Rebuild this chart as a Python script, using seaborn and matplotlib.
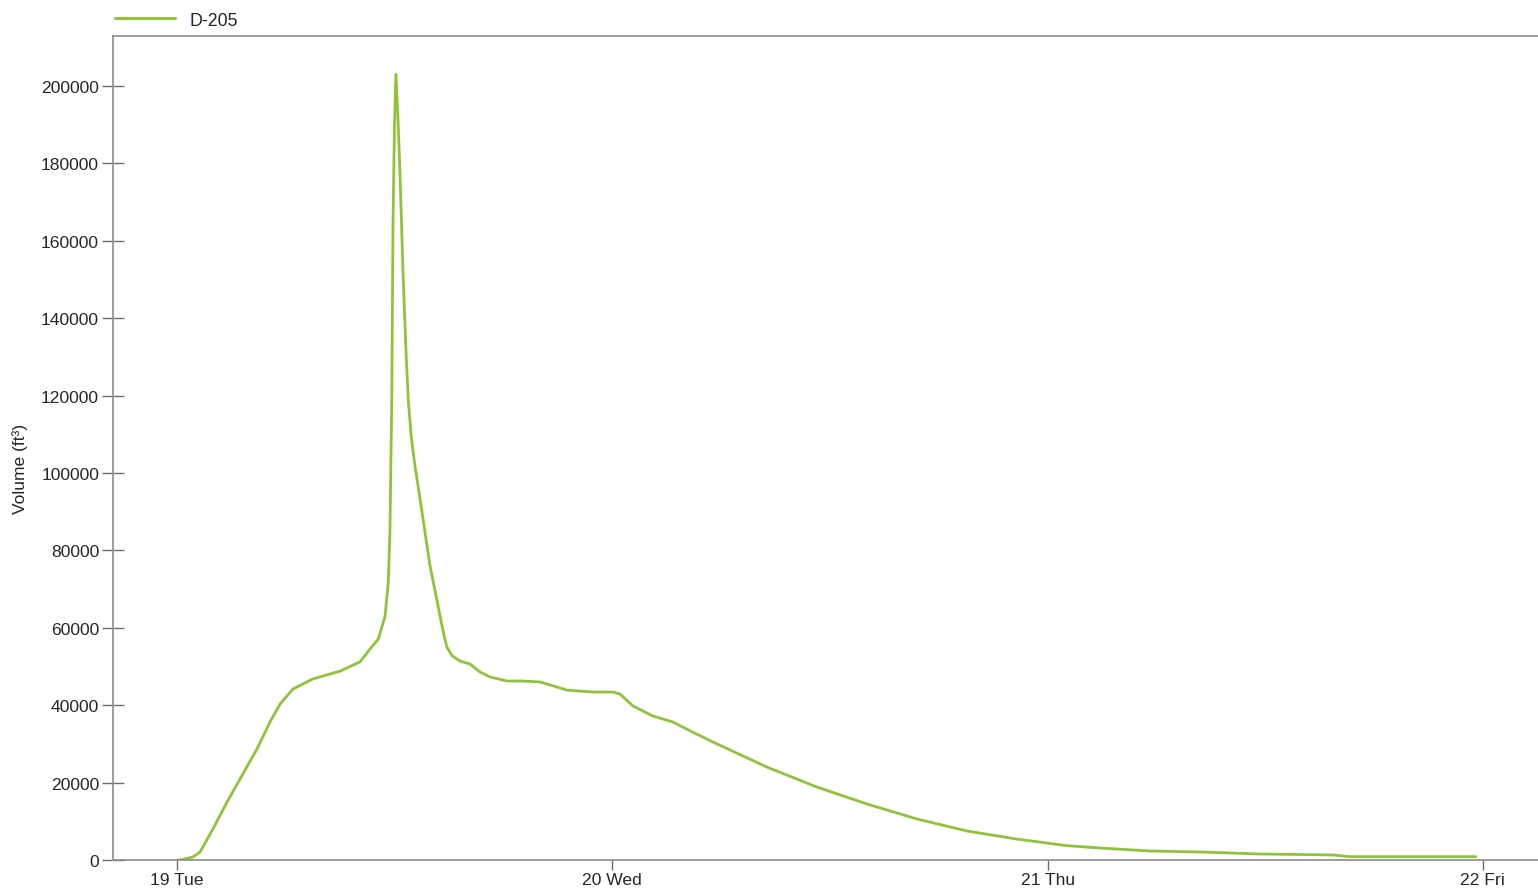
import numpy as np
import pandas as pd
import matplotlib
matplotlib.use("Agg")
import matplotlib.pyplot as plt
import matplotlib.dates as mdates
import seaborn as sns

# Storage volume of D-205 over the event, hours after 19 Sep 00:00
hours = [0.0, 0.17, 0.88, 1.27, 1.98, 2.76, 3.47, 4.41, 5.13, 5.68, 6.40, 7.50,
         8.99, 10.09, 10.64, 11.10, 11.47, 11.65, 11.74, 11.84, 11.91, 11.99,
         12.07, 12.18, 12.29, 12.46, 12.62, 12.75, 12.90, 13.12, 13.40, 13.67,
         13.95, 14.32, 14.68, 14.88, 15.16, 15.60, 16.15, 16.70, 17.26, 18.19,
         19.08, 20.01, 20.73, 21.50, 22.93, 24.04, 24.42, 25.14, 26.24, 27.34,
         28.45, 29.77, 32.53, 35.28, 38.04, 40.80, 43.55, 46.31, 49.07, 50.88,
         53.64, 56.40, 59.70, 63.73, 64.67, 71.61]
volume = [0, 0, 780, 2070, 8000, 15000, 20900, 28700, 35700, 40300, 44200, 46800,
          48800, 51200, 54500, 57100, 63000, 71800, 84800, 119000, 165000, 190000,
          203000, 192000, 178000, 152000, 132000, 119000, 110000, 101800, 93300, 84800,
          76000, 67400, 58900, 55000, 52800, 51400, 50650, 48600, 47300, 46250,
          46250, 46000, 45000, 43900, 43400, 43400, 42900, 39800, 37200, 35660,
          33000, 30000, 24000, 18860, 14470, 10600, 7500, 5400, 3700, 3100,
          2330, 2070, 1550, 1300, 850, 850]
series_name = "D-205"
y_ticks = [0, 20000, 40000, 60000, 80000, 100000, 120000, 140000, 160000, 180000, 200000]
start = pd.Timestamp("2023-09-19 00:00")

df = pd.DataFrame({
    "time": start + pd.to_timedelta(hours, unit="h"),
    "volume": volume,
    "node": series_name,
})

sns.set_theme(style="white")
plt.rcParams["font.family"] = ["Liberation Sans", "DejaVu Sans"]

fig = plt.figure(figsize=(15.38, 8.95), dpi=100)
ax = fig.add_axes([113 / 1538, 34 / 895, 1 - 113 / 1538, (861 - 37) / 895])

line_color = "#8fc43a"
sns.lineplot(data=df, x="time", y="volume", hue="node", palette=[line_color],
             linewidth=2.0, ax=ax, legend=False)

ax.set_xlim(start - pd.Timedelta(hours=3.53), start + pd.Timedelta(hours=75.04))
ax.set_ylim(0, 212920)
ax.set_yticks(y_ticks)
ax.set_yticklabels([str(v) for v in y_ticks])

ax.xaxis.set_major_locator(mdates.DayLocator())
ax.xaxis.set_major_formatter(mdates.DateFormatter("%d %a"))

spine_color = "#8c8c8c"
for side in ("left", "top", "bottom"):
    ax.spines[side].set_visible(True)
    ax.spines[side].set_color(spine_color)
    ax.spines[side].set_linewidth(1.2)
ax.spines["right"].set_visible(False)

ax.tick_params(axis="y", direction="inout", length=16, width=1, color="#6e6e6e",
               pad=2, labelsize=12.6, labelcolor="#262626", left=True)
ax.tick_params(axis="x", direction="out", length=7, width=1, color="#6e6e6e",
               pad=2, labelsize=12.6, labelcolor="#262626", bottom=True)

ax.set_xlabel("")
ax.set_ylabel("Volume (ft³)", fontsize=12.5, color="#262626")
ax.yaxis.set_label_coords(-0.0595, 0.476)

handle = plt.Line2D([], [], color=line_color, linewidth=2.2)
fig.legend([handle], [series_name], loc="center left",
           bbox_to_anchor=(115 / 1538, 1 - 21 / 895), frameon=False,
           fontsize=12.8, handlelength=3.4, handletextpad=0.8,
           borderpad=0, borderaxespad=0, labelcolor="#262626")

fig.savefig("out.png", dpi=100, facecolor="white")
